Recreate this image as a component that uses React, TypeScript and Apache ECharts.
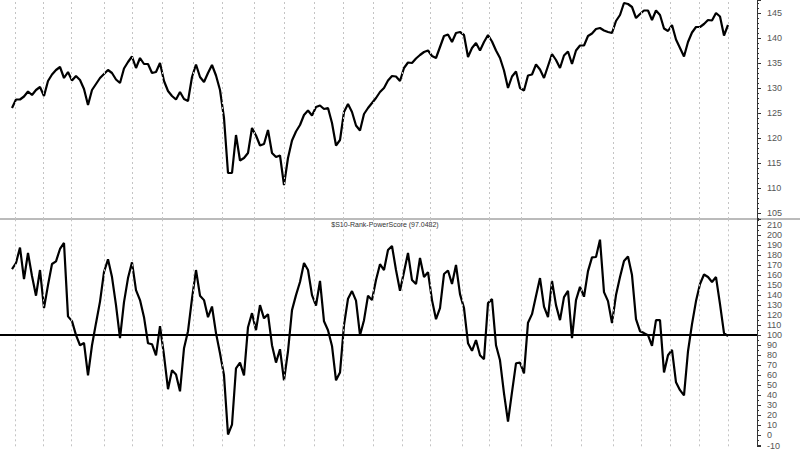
import React, { useEffect, useRef } from "react";
import * as echarts from "echarts";

// Upper panel: price series (one sample every ~3 trading days)
const priceValues: number[] = [
  126, 127.7, 127.7, 128.3, 129.3, 128.6, 129.6, 130.2, 128.4, 131.4,
  132.7, 133.6, 134.2, 132, 133.2, 131.5, 132.4, 131.6, 129.8, 126.6,
  129.6, 130.8, 132, 132.8, 133.6, 133, 131.7, 131, 133.9, 135.2,
  136.3, 134, 136, 134.8, 134.8, 133, 133.2, 135, 131.4, 129.4,
  128.4, 127.7, 129.2, 127.8, 127.4, 132.2, 134.7, 132.2, 131.2, 133,
  134.6, 132.5, 129.6, 124, 113, 113, 120.6, 115.5, 116, 117,
  122, 120.5, 118.5, 118.8, 121.6, 117, 116.2, 116.5, 110.6, 116,
  119.5, 121.3, 122.6, 124.6, 125.5, 124.5, 126.2, 126.5, 125.8, 126,
  123, 118.5, 119.6, 125.2, 126.8, 125.2, 122.5, 121.5, 124.8, 126,
  127, 128, 129.2, 130, 131.5, 132.4, 132.3, 131.4, 134, 135.1,
  135, 135.9, 136.6, 137.2, 137.5, 136.4, 136, 138.2, 140.4, 140.7,
  139.2, 141, 141.2, 140.6, 136.2, 138, 139, 137.5, 139.2, 140.6,
  139.3, 137.5, 136, 133.5, 130, 132.3, 133.3, 130, 129.5, 132.5,
  132.7, 134.7, 133.7, 132, 134.4, 136.8, 135.6, 134, 136.5, 137.3,
  134.8, 137.5, 138.5, 138.5, 140.4, 140.9, 141.8, 142, 141.5, 141.2,
  141, 143.4, 144.6, 147, 146.8, 146.2, 144, 144.8, 145.5, 145.5,
  143.6, 145.5, 144.6, 141.9, 141.4, 142.6, 139.7, 138, 136.3, 139.2,
  141.1, 142.2, 142.2, 142.8, 143.6, 143.5, 145, 144.3, 140.5, 142.6,
];

// Lower panel: rank power score
const scoreValues: number[] = [
  165.9, 172, 187.4, 156, 182, 159, 139.4, 165, 127, 150,
  171, 173.7, 186, 192, 118.8, 114, 100.1, 90, 92.3, 60,
  90, 112, 133.5, 163, 175.7, 158, 130, 97.2, 133, 157,
  172.7, 145, 135, 118, 92, 91, 80, 109, 80, 46.2,
  65, 60.9, 44, 87, 104, 136.4, 165, 139.4, 135, 118,
  128.6, 102.1, 82, 60, 1, 10.9, 67, 72.7, 60, 108,
  122, 105, 130, 116.8, 121, 90, 72.7, 86, 55, 84,
  125, 140, 153.1, 172, 165, 140, 129.6, 154.1, 113.9, 105,
  89.3, 55, 62.9, 110, 136.4, 144, 134.5, 100, 115, 139.4,
  135, 155, 170.8, 165, 185, 189, 165, 144.3, 163, 182,
  155, 151, 177, 158, 162.9, 135, 116, 127, 161, 164.5,
  151.1, 170, 141, 127, 92, 84.4, 95.2, 80, 76, 132,
  136, 90, 75, 42, 13.8, 43.2, 72, 72.7, 62, 112.5,
  121, 139, 157, 128.6, 118, 154.1, 130, 115, 138, 144.3,
  97, 135, 148.2, 138.4, 163.9, 177.6, 178, 195.3, 143, 134,
  112, 140, 158, 174, 178.5, 160, 116, 104, 102.1, 100,
  89.5, 115, 115, 62.9, 80, 85.4, 53, 45.2, 40, 84,
  111, 134, 151.1, 160.5, 158, 153.1, 158, 131, 102.1, 99,
];

// Month boundaries, in sample units
const monthMarks: number[] = [
  0.75, 7.75, 14.75, 23, 30, 37.5, 45.25, 52.5, 60.5, 68, 75.5, 82.75, 90.25,
  97.5, 104.5, 112.5, 119.25, 127.25, 134.75, 142.25, 150.25, 157.25, 164.5,
  171.75, 179,
];

const panelTitle = "$S10-Rank-PowerScore (97.0482)";
const referenceLevel = 100;

export default function App() {
  const ref = useRef<HTMLDivElement>(null);
  useEffect(() => {
    if (!ref.current) return;
    const chart = echarts.init(ref.current, null, { renderer: "svg" });
    const toPairs = (arr: number[]) => arr.map((v, i) => [i, v]);
    const gridLineStyle = { color: "#c4c4c4", type: [2, 3], width: 1 };
    const yCommon = {
      type: "value",
      position: "right",
      splitLine: { show: false },
      axisLine: { show: true, onZero: false, lineStyle: { color: "#333", width: 1 } },
      axisTick: { show: true, length: 4, lineStyle: { color: "#333" } },
      axisLabel: {
        color: "#555",
        fontSize: 9,
        margin: 10,
        fontFamily: "Liberation Sans, Arial, sans-serif",
        showMinLabel: false,
        showMaxLabel: false,
      },
    };
    chart.setOption({
      animation: false,
      backgroundColor: "#ffffff",
      grid: [
        { left: 0, top: 0, width: 757, height: 219 },
        { left: 0, top: 219, width: 757, height: 231 },
      ],
      xAxis: [
        { type: "value", gridIndex: 0, min: -3, max: 186.25, show: false },
        { type: "value", gridIndex: 1, min: -3, max: 186.25, show: false },
      ],
      yAxis: [
        {
          ...yCommon,
          gridIndex: 0,
          min: 103.8,
          max: 147.6,
          minInterval: 5,
          maxInterval: 5,
          minorTick: { show: true, splitNumber: 5, length: 2, lineStyle: { color: "#333" } },
        },
        {
          ...yCommon,
          gridIndex: 1,
          min: -10.8,
          max: 215.9,
          minInterval: 10,
          maxInterval: 10,
          minorTick: { show: true, splitNumber: 2, length: 2, lineStyle: { color: "#333" } },
        },
      ],
      series: [
        {
          type: "line",
          xAxisIndex: 0,
          yAxisIndex: 0,
          data: toPairs(priceValues),
          symbol: "none",
          lineStyle: { color: "#000", width: 2.2 },
          markLine: {
            silent: true,
            symbol: ["none", "none"],
            label: { show: false },
            lineStyle: gridLineStyle,
            data: monthMarks.map((m) => ({ xAxis: m })),
          },
        },
        {
          type: "line",
          xAxisIndex: 1,
          yAxisIndex: 1,
          data: toPairs(scoreValues),
          symbol: "none",
          lineStyle: { color: "#000", width: 2.2 },
          markLine: {
            silent: true,
            symbol: ["none", "none"],
            label: { show: false },
            data: [
              ...monthMarks.map((m) => ({ xAxis: m, lineStyle: gridLineStyle })),
              { yAxis: referenceLevel, lineStyle: { color: "#000", type: "solid", width: 2 } },
            ],
          },
        },
      ],
      graphic: [
        {
          type: "line",
          shape: { x1: 0, y1: 219, x2: 800, y2: 219 },
          style: { stroke: "#777", lineWidth: 1 },
        },
        {
          type: "text",
          x: 385,
          y: 224,
          style: {
            text: panelTitle,
            fill: "#333",
            fontSize: 7,
            fontFamily: "Liberation Sans, Arial, sans-serif",
            textAlign: "center",
            textVerticalAlign: "middle",
          },
        },
      ],
    });
    return () => chart.dispose();
  }, []);
  return (
    <div
      ref={ref}
      style={{ position: "fixed", left: 0, top: 0, width: 800, height: 450 }}
    />
  );
}
